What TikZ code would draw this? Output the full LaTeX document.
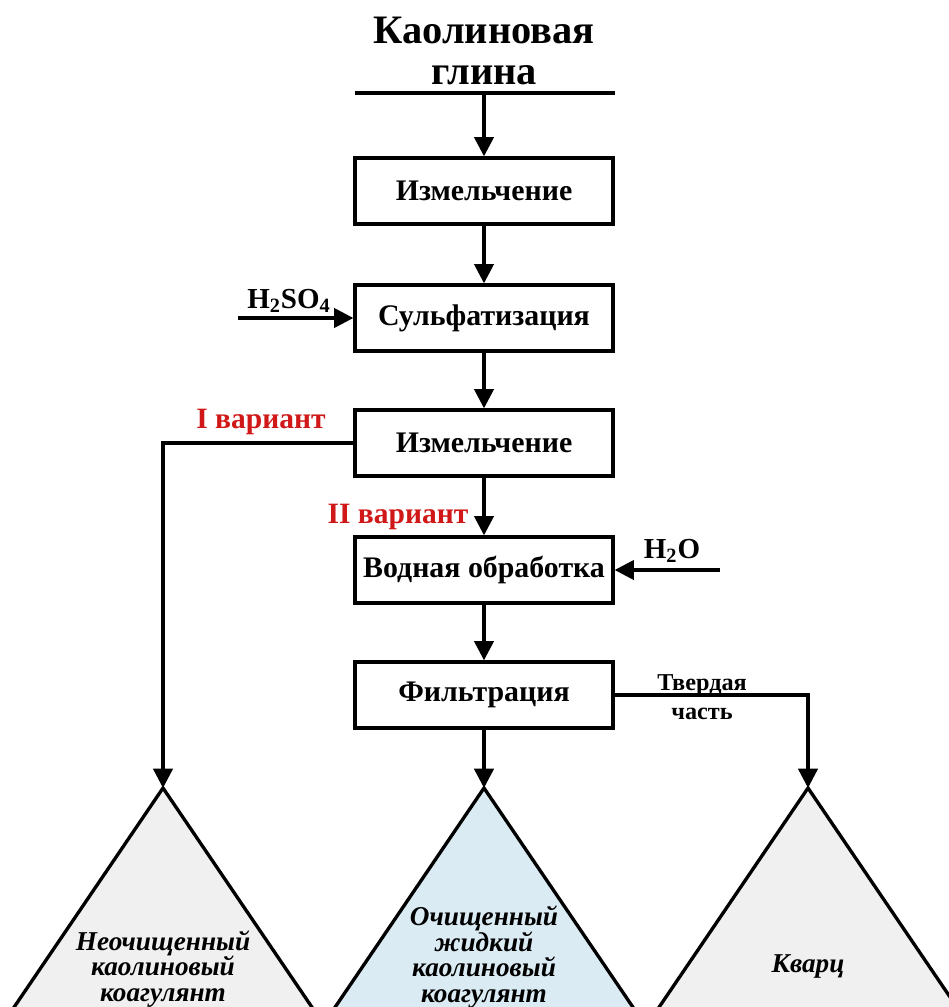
\documentclass[tikz,border=0pt]{standalone}
\usepackage{fontspec}
\setmainfont{Liberation Serif}
\usetikzlibrary{arrows.meta,positioning}

\definecolor{varred}{RGB}{208,24,24}
\definecolor{rawgray}{RGB}{240,240,240}
\definecolor{pureblue}{RGB}{218,235,243}

\begin{document}
\begin{tikzpicture}[
  x=0.02cm,y=-0.02cm,
  font=\bfseries,
  line width=1.9pt,
  >={Triangle[length=11pt,width=11pt]},
  stepbox/.style={draw,minimum width=5.16cm,minimum height=1.32cm,font=\fontsize{17}{20}\selectfont\bfseries},
  arrow/.style={->},
  variant/.style={text=varred,font=\fontsize{16.8}{19}\selectfont\bfseries},
  reagent/.style={font=\fontsize{16.5}{19}\selectfont\bfseries},
  heap/.style={draw},
  product/.style={align=center,font=\fontsize{15.5}{14.5}\selectfont\bfseries\itshape}
]
  \useasboundingbox (0,0) rectangle (949,1007);
  \clip (0,0) rectangle (949,1007);

  % raw material
  \node[align=center,font=\fontsize{23}{23}\selectfont\bfseries] (clay) at (484,51) {Каолиновая\\глина};
  \coordinate (feedL) at (355,93);
  \coordinate (feedR) at (615,93);
  \coordinate (feed) at (484,93);
  \draw (feedL) -- (feedR);

  % process steps
  \node[stepbox] (grind1) at (484,191) {Измельчение};
  \node[stepbox] (sulf) at (484,318) {Сульфатизация};
  \node[stepbox] (grind2) at (484,443) {Измельчение};
  \node[stepbox] (water) at (484,570) {Водная обработка};
  \node[stepbox] (filt) at (484,695) {Фильтрация};

  \draw[arrow] (feed) -- (grind1);
  \draw[arrow] (grind1) -- (sulf);
  \draw[arrow] (sulf) -- (grind2);
  \draw[arrow] (grind2) -- (water);
  \draw[arrow] (water) -- (filt);

  % reagents
  \coordinate (acid) at (238,318);
  \node[reagent] (acidlbl) at (289,301) {H\textsubscript{2}SO\textsubscript{4}};
  \draw[arrow] (acid) -- (sulf);
  \coordinate (aqua) at (720,570);
  \node[reagent] (aqualbl) at (672,551) {H\textsubscript{2}O};
  \draw[arrow] (aqua) -- (water);

  % products
  \coordinate (apexL) at (163,788);
  \coordinate (apexM) at (484,788);
  \coordinate (apexR) at (808,788);
  \draw[heap,fill=rawgray] (apexL) -- ++(-212,312) -- ++(424,0) -- cycle;
  \draw[heap,fill=pureblue] (apexM) -- ++(-212,312) -- ++(424,0) -- cycle;
  \draw[heap,fill=rawgray] (apexR) -- ++(-212,312) -- ++(424,0) -- cycle;
  \node[product] (raw) at (163,969) {Неочищенный\\каолиновый\\коагулянт};
  \node[product] (pure) at (484,957) {Очищенный\\жидкий\\каолиновый\\коагулянт};
  \node[product] (quartz) at (808,966) {Кварц};

  % variants and outlets
  \draw[arrow] (grind2.west) -| (apexL);
  \draw[arrow] (filt) -- (apexM);
  \draw[arrow] (filt.east) -| (apexR);
  \node[variant] (var1) at (261,422) {I вариант};
  \node[variant] (var2) at (398,517) {II вариант};
  \node[align=center,font=\fontsize{13.8}{16.5}\selectfont\bfseries] (solid) at (702,697) {Твердая\\часть};

\end{tikzpicture}
\end{document}
